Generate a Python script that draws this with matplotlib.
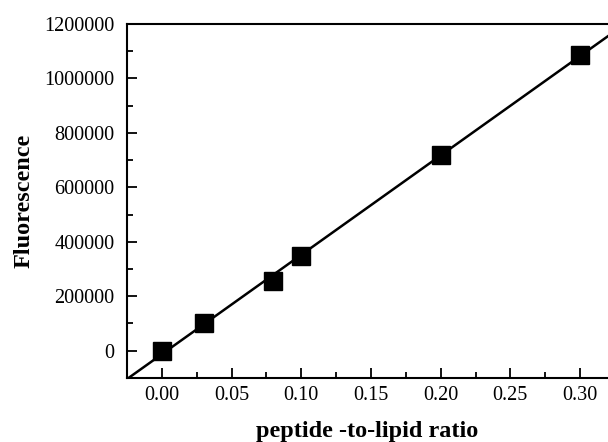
import numpy as np
import matplotlib
matplotlib.use("Agg")
import matplotlib.pyplot as plt
from matplotlib.ticker import MultipleLocator

plt.rcParams['font.family'] = ['Liberation Serif', 'DejaVu Serif']

ratio = [0.00, 0.03, 0.08, 0.10, 0.20, 0.30]
fluor = [0, 102000, 257000, 349000, 719000, 1087000]
x_ticks = [0.00, 0.05, 0.10, 0.15, 0.20, 0.25, 0.30]
y_ticks = [0, 200000, 400000, 600000, 800000, 1000000, 1200000]

fig = plt.figure(figsize=(6.08, 4.42), dpi=100)
ax = fig.add_axes([0.209, 0.145, 0.791, 0.801])

slope, intercept = np.polyfit(ratio, fluor, 1)
xl = np.array([-0.025, 0.32])
ax.plot(xl, slope * xl + intercept, color='black', lw=1.8, zorder=2)
ax.plot(ratio, fluor, 's', color='black', ms=13.5, zorder=3)

ax.set_xlim(-0.025, 0.32)
ax.set_ylim(-100000, 1200000)
ax.set_xticks(x_ticks)
ax.set_xticklabels([f"{v:.2f}" for v in x_ticks])
ax.set_yticks(y_ticks)
ax.set_yticklabels([str(v) for v in y_ticks])
ax.xaxis.set_minor_locator(MultipleLocator(0.025))
ax.yaxis.set_minor_locator(MultipleLocator(100000))
ax.tick_params(which='major', direction='in', length=7, width=1.3, labelsize=14.6, pad=6)
ax.tick_params(axis='y', which='major', pad=9)
ax.tick_params(which='minor', direction='in', length=4, width=1.3)
ax.tick_params(top=False, right=False, which='both')
ax.spines['right'].set_visible(False)
for s in ['left', 'bottom', 'top']:
    ax.spines[s].set_linewidth(1.5)

ax.set_xlabel('peptide -to-lipid ratio', fontsize=17.5, fontweight='bold', labelpad=11)
ax.set_ylabel('Fluorescence', fontsize=17.5, fontweight='bold', labelpad=7)

fig.savefig('out.png', dpi=100)
